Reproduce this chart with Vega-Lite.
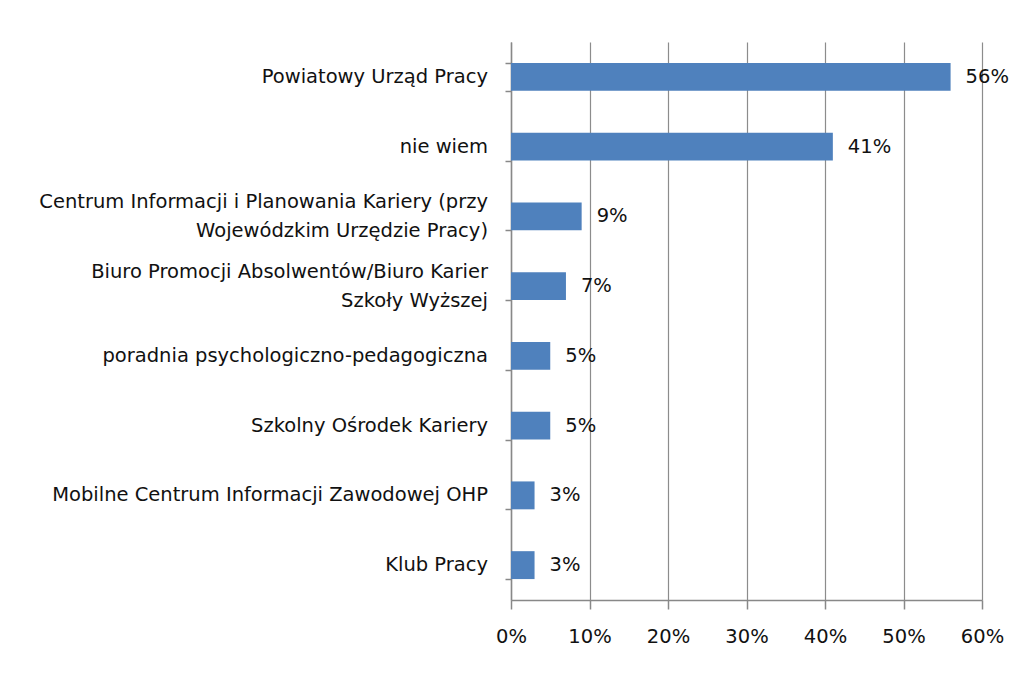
{
  "$schema": "https://vega.github.io/schema/vega-lite/v6.json",
  "width": 471,
  "height": 558,
  "autosize": "none",
  "padding": {"left": 511, "top": 42, "right": 39, "bottom": 77},
  "background": "white",
  "data": {
    "values": [
      {"kategoria": "Powiatowy Urząd Pracy", "linia1": "Powiatowy Urząd Pracy", "linia2": "", "wartosc": 0.56},
      {"kategoria": "nie wiem", "linia1": "nie wiem", "linia2": "", "wartosc": 0.41},
      {"kategoria": "Centrum Informacji i Planowania Kariery (przy Wojewódzkim Urzędzie Pracy)", "linia1": "Centrum Informacji i Planowania Kariery (przy", "linia2": "Wojewódzkim Urzędzie Pracy)", "wartosc": 0.09},
      {"kategoria": "Biuro Promocji Absolwentów/Biuro Karier Szkoły Wyższej", "linia1": "Biuro Promocji Absolwentów/Biuro Karier", "linia2": "Szkoły Wyższej", "wartosc": 0.07},
      {"kategoria": "poradnia psychologiczno-pedagogiczna", "linia1": "poradnia psychologiczno-pedagogiczna", "linia2": "", "wartosc": 0.05},
      {"kategoria": "Szkolny Ośrodek Kariery", "linia1": "Szkolny Ośrodek Kariery", "linia2": "", "wartosc": 0.05},
      {"kategoria": "Mobilne Centrum  Informacji Zawodowej OHP", "linia1": "Mobilne Centrum  Informacji Zawodowej OHP", "linia2": "", "wartosc": 0.03},
      {"kategoria": "Klub Pracy", "linia1": "Klub Pracy", "linia2": "", "wartosc": 0.03}
    ]
  },
  "encoding": {
    "y": {
      "field": "kategoria",
      "type": "nominal",
      "sort": null,
      "scale": {"paddingInner": 0.6, "paddingOuter": 0.3},
      "axis": {
        "title": null,
        "grid": false,
        "labels": false,
        "domainColor": "#888888",
        "domainWidth": 1.5,
        "tickColor": "#888888",
        "tickWidth": 1.5,
        "tickSize": 6,
        "tickBand": "extent"
      }
    },
    "x": {
      "field": "wartosc",
      "type": "quantitative",
      "scale": {"domain": [0, 0.6], "nice": false},
      "axis": {
        "title": null,
        "format": ".0%",
        "values": [0, 0.1, 0.2, 0.3, 0.4, 0.5, 0.6],
        "grid": true,
        "gridColor": "#8c8c8c",
        "gridWidth": 1.2,
        "domainColor": "#888888",
        "domainWidth": 1.5,
        "tickColor": "#888888",
        "tickWidth": 1.5,
        "tickSize": 9,
        "labelPadding": 18,
        "labelFlush": false,
        "labelFont": "DejaVu Sans",
        "labelFontSize": 19.5,
        "labelColor": "#111111"
      }
    }
  },
  "layer": [
    {"mark": {"type": "bar", "color": "#4f81bd"}},
    {
      "mark": {"type": "text", "align": "left", "baseline": "middle", "dx": 15, "font": "DejaVu Sans", "fontSize": 19.5, "color": "#111111"},
      "encoding": {"text": {"field": "wartosc", "type": "quantitative", "format": ".0%"}}
    },
    {
      "transform": [{"filter": "datum.linia2 == ''"}],
      "mark": {"type": "text", "align": "right", "baseline": "middle", "dx": -23, "font": "DejaVu Sans", "fontSize": 19.5, "color": "#111111"},
      "encoding": {"x": {"datum": 0}, "text": {"field": "linia1"}}
    },
    {
      "transform": [{"filter": "datum.linia2 != ''"}],
      "mark": {"type": "text", "align": "right", "baseline": "middle", "dx": -23, "dy": -14, "font": "DejaVu Sans", "fontSize": 19.5, "color": "#111111"},
      "encoding": {"x": {"datum": 0}, "text": {"field": "linia1"}}
    },
    {
      "transform": [{"filter": "datum.linia2 != ''"}],
      "mark": {"type": "text", "align": "right", "baseline": "middle", "dx": -23, "dy": 15, "font": "DejaVu Sans", "fontSize": 19.5, "color": "#111111"},
      "encoding": {"x": {"datum": 0}, "text": {"field": "linia2"}}
    }
  ],
  "config": {"view": {"stroke": null}}
}
